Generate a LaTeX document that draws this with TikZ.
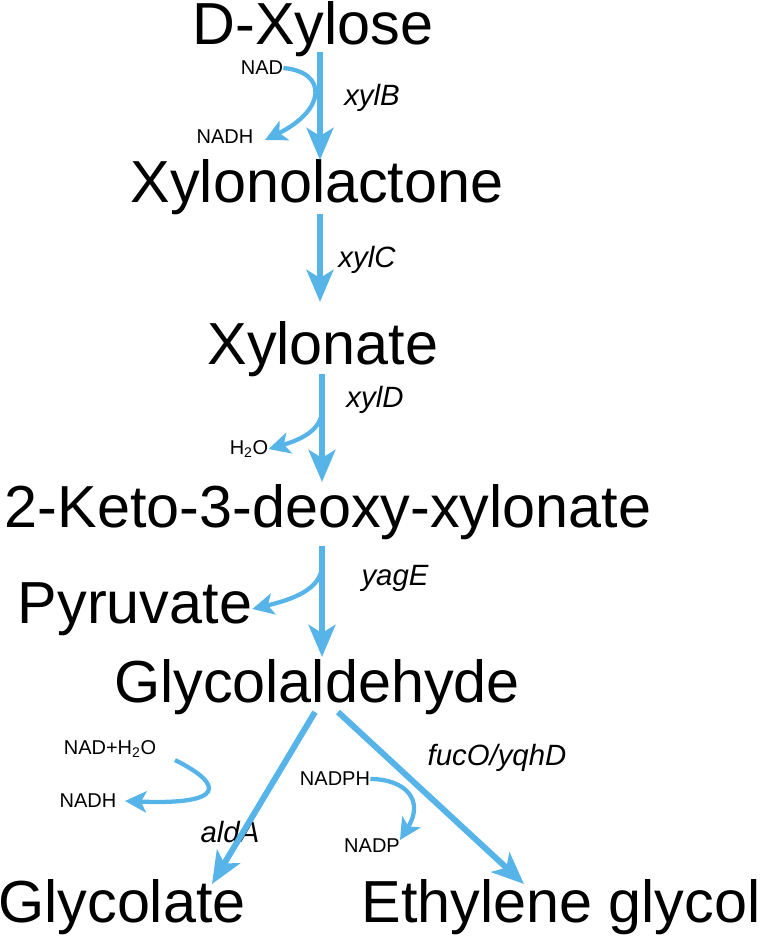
\documentclass[tikz,border=0pt]{standalone}
\usepackage{fontspec}
\setmainfont{Liberation Sans}
\usetikzlibrary{arrows.meta}
\definecolor{ab}{RGB}{86,180,233}
\begin{document}
\begin{tikzpicture}[x=0.75pt,y=-0.75pt,
  big/.style={font=\fontsize{44.5}{50}\selectfont,inner sep=0pt},
  sm/.style={font=\fontsize{15}{17}\selectfont,inner sep=0pt},
  enz/.style={font=\fontsize{22}{25}\selectfont\itshape,inner sep=0pt},
  rx/.style={draw=ab,line width=4.5pt,-{Stealth[length=24pt,width=20pt,inset=6pt]}},
  sd/.style={draw=ab,line width=3.2pt,-{Stealth[length=16pt,width=16pt,inset=4pt]}}]
\useasboundingbox (0,0) rectangle (760,939);
\node[big] (dx) at (313,29) {D-Xylose};
\node[big] (xl) at (317,187) {Xylonolactone};
\node[big] (xn) at (323,349) {Xylonate};
\node[big] (kd) at (328,512) {2-Keto-3-deoxy-xylonate};
\node[big] (py) at (135,609) {Pyruvate};
\node[big] (ga) at (317,687) {Glycolaldehyde};
\node[big] (gl) at (122,907) {Glycolate};
\node[big] (eg) at (561,907) {Ethylene glycol};
\node[sm] (nad) at (262,68) {NAD};
\node[sm] (nadh) at (225,137) {NADH};
\node[sm] (h2o) at (249,449) {H\textsubscript{2}O};
\node[sm] (nh2o) at (110,749) {NAD+H\textsubscript{2}O};
\node[sm] (nadh2) at (88,801) {NADH};
\node[sm] (nadph) at (335,779) {NADPH};
\node[sm] (nadp) at (372,846) {NADP};
\node[enz] at (372,98) {xylB};
\node[enz] at (367,260) {xylC};
\node[enz] at (375,400) {xylD};
\node[enz] at (395,578) {yagE};
\node[enz] at (230,832) {aldA};
\node[enz] at (497,758) {fucO/yqhD};
\draw[rx] (320,52) -- (320,160);
\draw[sd] (nad.east) .. controls (328,72) and (326,110) .. (265,140);
\draw[rx] (320,214) -- (320,302);
\draw[rx] (322,374) -- (322,482);
\draw[sd] (322,410) .. controls (322,430) and (300,440) .. (h2o.east);
\draw[rx] (322,546) -- (322,657);
\draw[sd] (322,565) .. controls (322,590) and (290,600) .. (py.east);
\draw[rx] (315,712) -- (212,884);
\draw[rx] (338,712) -- (524,884);
\draw[sd] (175,760) .. controls (225,785) and (225,805) .. (125,801);
\draw[sd] (nadph.east) .. controls (405,779) and (425,800) .. (400,840);
\end{tikzpicture}
\end{document}
